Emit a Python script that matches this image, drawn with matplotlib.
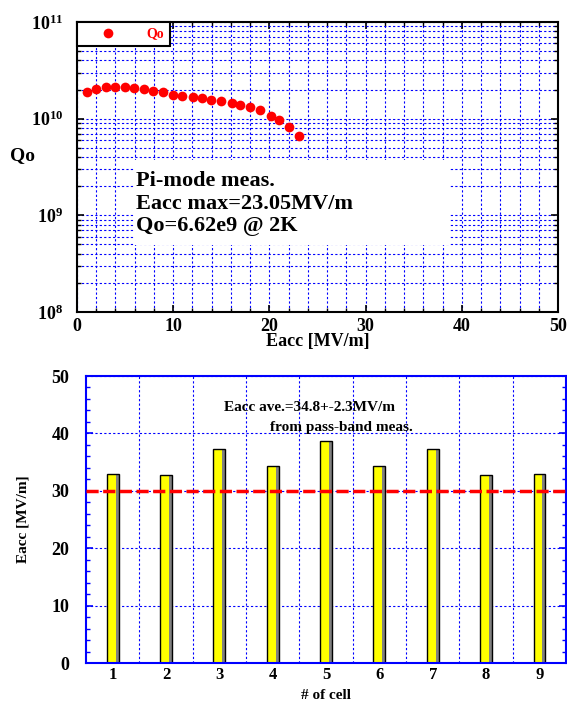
import numpy as np
import matplotlib
matplotlib.use("Agg")
import matplotlib.pyplot as plt
from matplotlib.patches import Rectangle
from matplotlib.ticker import LogLocator, MultipleLocator, FixedLocator, NullFormatter

# Q0 vs Eacc (pi-mode measurement)
eacc = [1.07, 2.01, 2.99, 3.96, 4.97, 5.97, 6.95, 7.95, 8.96, 9.97, 10.9, 12.1,
        13.0, 13.96, 14.97, 16.1, 16.98, 17.98, 19.06, 20.2, 21.0, 22.0, 23.05]
q0 = [1.90e10, 2.04e10, 2.11e10, 2.14e10, 2.14e10, 2.08e10, 2.01e10, 1.95e10,
      1.88e10, 1.77e10, 1.73e10, 1.66e10, 1.64e10, 1.57e10, 1.52e10, 1.46e10,
      1.40e10, 1.32e10, 1.23e10, 1.07e10, 9.77e9, 8.21e9, 6.62e9]

# Eacc per cell from pass-band measurement
cells = [1, 2, 3, 4, 5, 6, 7, 8, 9]
cell_eacc = [33.0, 32.7, 37.3, 34.3, 38.7, 34.3, 37.3, 32.7, 33.0]
limit = 30

plt.rcParams['font.family'] = ['Liberation Serif', 'DejaVu Serif']
plt.rcParams['font.weight'] = 'bold'
plt.rcParams['mathtext.fontset'] = 'custom'
plt.rcParams['mathtext.rm'] = 'Liberation Serif:bold'
plt.rcParams['mathtext.it'] = 'Liberation Serif:bold'
plt.rcParams['mathtext.bf'] = 'Liberation Serif:bold'

fig = plt.figure(figsize=(5.67, 7.04), dpi=100)
grid_kw = dict(color='blue', linewidth=0.8, linestyle=(0, (2, 2)))

# ---- top: Qo vs Eacc ----
ax1 = fig.add_axes([0.1358, 0.5568, 0.8483, 0.4119])
ax1.set_yscale('log')
ax1.set_xlim(0, 50)
ax1.set_ylim(1e8, 1e11)
ax1.set_axisbelow(True)
ax1.xaxis.set_major_locator(MultipleLocator(10))
ax1.xaxis.set_minor_locator(MultipleLocator(2))
ax1.yaxis.set_major_locator(LogLocator(base=10, numticks=10))
ax1.yaxis.set_minor_locator(LogLocator(base=10, subs=np.arange(2, 10), numticks=20))
ax1.yaxis.set_minor_formatter(NullFormatter())
ax1.grid(True, which='both', **grid_kw)
ax1.tick_params(which='both', direction='in', top=True, right=True, color='black')
ax1.tick_params(which='major', length=5, width=1.2)
ax1.tick_params(which='minor', length=3, width=1)
ax1.tick_params(axis='y', labelsize=13, pad=10)
ax1.tick_params(axis='x', labelsize=13, pad=4)
for s in ax1.spines.values():
    s.set_linewidth(1.5)

# white area behind the annotation block
ax1.add_patch(Rectangle((0.1185, 0.231), 0.657, 0.293, transform=ax1.transAxes,
                        facecolor='white', edgecolor='none', zorder=1.5))
ax1.plot(eacc, q0, 'o', color='red', markersize=7, markeredgewidth=0,
         label='Qo', zorder=3)
ax1.text(0.122, 0.485, "Pi-mode meas.\nEacc max=23.05MV/m\nQo=6.62e9 @ 2K",
         transform=ax1.transAxes, fontsize=16, fontweight='bold',
         va='top', ha='left', linespacing=1.15, zorder=4)

leg = ax1.legend(loc='upper left', bbox_to_anchor=(0, 1), borderaxespad=0,
                 fancybox=False, framealpha=1, edgecolor='black', labelcolor='red',
                 prop={'size': 10, 'weight': 'bold'}, handlelength=3.6,
                 handletextpad=1.0, borderpad=0.4)
leg.get_frame().set_linewidth(1.5)
leg.set_zorder(5)

ax1.set_xlabel("Eacc [MV/m]", fontsize=13, fontweight='bold')
ax1.xaxis.set_label_coords(0.5, -0.103)
ax1.xaxis.label.set_va('center')
ax1.set_ylabel("Qo", fontsize=14, fontweight='bold', rotation=0)
ax1.yaxis.set_label_coords(-0.114, 0.54)
ax1.yaxis.label.set_va('center')

# ---- bottom: Eacc per cell ----
ax2 = fig.add_axes([0.1517, 0.0582, 0.8466, 0.4077])
ax2.set_xlim(0.5, 9.5)
ax2.set_ylim(0, 50)
ax2.set_axisbelow(True)
ax2.yaxis.set_major_locator(MultipleLocator(10))
ax2.yaxis.set_minor_locator(MultipleLocator(2))
ax2.xaxis.set_major_locator(FixedLocator(cells))
ax2.xaxis.set_minor_locator(FixedLocator([c + 0.5 for c in cells[:-1]]))
ax2.grid(True, axis='y', which='major', **grid_kw)
ax2.grid(True, axis='x', which='minor', **grid_kw)
ax2.tick_params(which='both', direction='in', color='blue')
ax2.tick_params(axis='y', which='both', left=True, right=True, labelsize=13, pad=12)
ax2.tick_params(axis='y', which='major', length=5, width=1.2)
ax2.tick_params(axis='y', which='minor', length=3, width=1)
ax2.tick_params(axis='x', which='major', length=3, labelsize=12, pad=3)
ax2.tick_params(axis='x', which='minor', length=0)
for s in ax2.spines.values():
    s.set_color('blue')
    s.set_linewidth(1.5)

# yellow bars with a grey shaded right side
ax2.bar(cells, cell_eacc, width=0.22, color='#ffff00', edgecolor='none', zorder=2)
ax2.bar([c + 0.11 for c in cells], cell_eacc, width=-0.055, align='edge',
        color='#808080', edgecolor='none', zorder=2.2)
ax2.bar(cells, cell_eacc, width=0.22, facecolor='none', edgecolor='black',
        linewidth=1, zorder=2.4)
ax2.axhline(limit, color='red', linewidth=2.5, linestyle=(0, (3.5, 1.3)), zorder=3)

ax2.text(4.69, 44.6, "Eacc ave.=34.8+-2.3MV/m", fontsize=11, fontweight='bold',
         ha='center', va='center')
ax2.text(5.29, 41.1, "from pass-band meas.", fontsize=11, fontweight='bold',
         ha='center', va='center')

ax2.set_xlabel("# of cell", fontsize=11, fontweight='bold')
ax2.xaxis.set_label_coords(0.5, -0.112)
ax2.xaxis.label.set_va('center')
ax2.set_ylabel("Eacc [MV/m]", fontsize=11, fontweight='bold')
ax2.yaxis.set_label_coords(-0.131, 0.5)
ax2.yaxis.label.set_va('center')

fig.savefig("out.png", dpi=100)
